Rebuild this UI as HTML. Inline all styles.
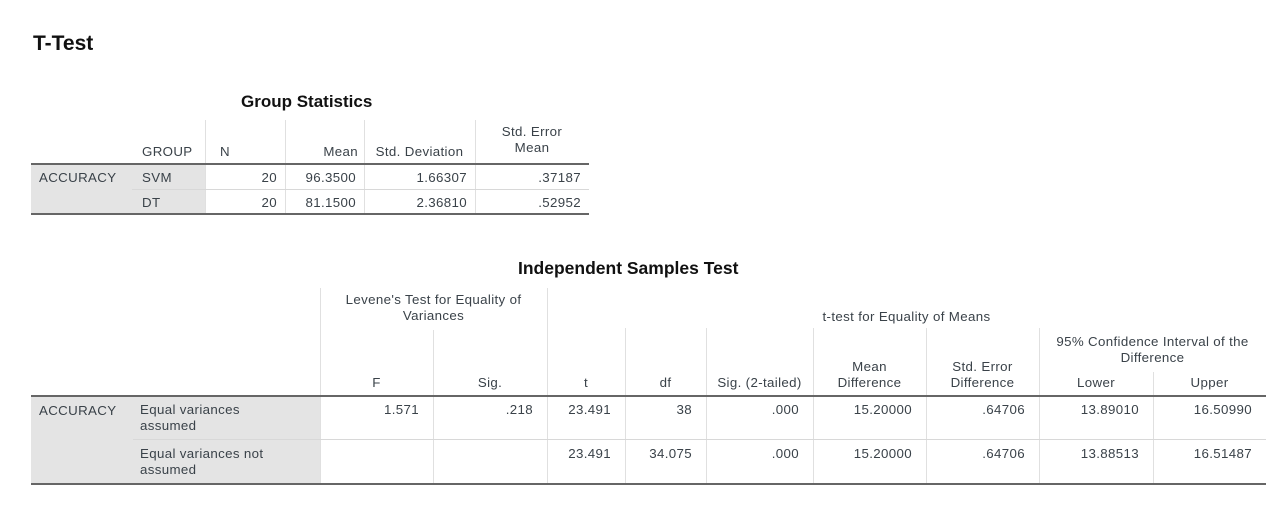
<!DOCTYPE html>
<html><head><meta charset="utf-8">
<style>
body{margin:0;background:#fff;width:1280px;height:514px;position:relative;overflow:hidden;font-family:"Liberation Sans",sans-serif;color:#3a4249}
.a{position:absolute;font-size:13.3px;letter-spacing:0.35px;line-height:16px;white-space:nowrap}
.h{position:absolute;background:#c8c8c8}
.v{position:absolute;width:1px;background:#e0e0e0}
.g{position:absolute;background:#e4e4e4}
.t{font-weight:bold;color:#111;letter-spacing:0}
</style></head><body>
<div class="a t" style="left:33px;top:32px;font-size:21px;line-height:24px">T-Test</div>

<!-- Group statistics -->
<div class="a t" style="left:241px;top:92px;font-size:17px;line-height:20px">Group Statistics</div>
<div class="g" style="left:31px;top:164px;width:174px;height:50px"></div>
<div class="v" style="left:205px;top:120px;height:94px"></div>
<div class="v" style="left:285px;top:120px;height:94px"></div>
<div class="v" style="left:364px;top:120px;height:94px"></div>
<div class="v" style="left:475px;top:120px;height:94px"></div>
<div class="h" style="left:31px;top:163px;width:558px;height:2px;background:#666"></div>
<div class="h" style="left:132px;top:189px;width:457px;height:1px;background:#d8d8d8"></div>
<div class="h" style="left:31px;top:213px;width:558px;height:2px;background:#666"></div>
<div class="a" style="left:142px;top:144px">GROUP</div>
<div class="a" style="left:220px;top:144px">N</div>
<div class="a" style="left:285px;top:144px;width:73px;text-align:right">Mean</div>
<div class="a" style="left:364px;top:144px;width:111px;text-align:center">Std. Deviation</div>
<div class="a" style="left:475px;top:124px;width:114px;text-align:center">Std. Error<br>Mean</div>
<div class="a" style="left:39px;top:170px">ACCURACY</div>
<div id="gs"></div>

<!-- Independent samples -->
<div class="a t" style="left:518px;top:258px;font-size:17.5px;line-height:20px">Independent Samples Test</div>
<div class="g" style="left:31px;top:396px;width:289px;height:88px"></div>
<div id="vl"></div>
<div class="h" style="left:31px;top:395px;width:1235px;height:2px;background:#666"></div>
<div class="h" style="left:133px;top:439px;width:1133px;height:1px;background:#d8d8d8"></div>
<div class="h" style="left:31px;top:483px;width:1235px;height:2px;background:#666"></div>
<div class="a" style="left:320px;top:292px;width:227px;text-align:center">Levene's Test for Equality of<br>Variances</div>
<div class="a" style="left:547px;top:309px;width:719px;text-align:center">t-test for Equality of Means</div>
<div class="a" style="left:1039px;top:334px;width:227px;text-align:center">95% Confidence Interval of the<br>Difference</div>
<div class="a" style="left:39px;top:403px">ACCURACY</div>
<div class="a" style="left:140px;top:402px">Equal variances<br>assumed</div>
<div class="a" style="left:140px;top:446px">Equal variances not<br>assumed</div>
<div id="ist"></div>

<script>
const gsGroups=["SVM","DT"];
const gsN=["20","20"];
const gsMean=["96.3500","81.1500"];
const gsSD=["1.66307","2.36810"];
const gsSE=[".37187",".52952"];
const isHeaders=["F","Sig.","t","df","Sig. (2-tailed)","Mean<br>Difference","Std. Error<br>Difference","Lower","Upper"];
const isRow1=["1.571",".218","23.491","38",".000","15.20000",".64706","13.89010","16.50990"];
const isRow2=["","","23.491","34.075",".000","15.20000",".64706","13.88513","16.51487"];

function cell(parent,left,top,width,html,align){
  const d=document.createElement('div');
  d.className='a';
  d.style.left=left+'px';d.style.top=top+'px';d.style.width=width+'px';
  d.style.textAlign=align;
  d.innerHTML=html;
  parent.appendChild(d);
  return d;
}
const gs=document.getElementById('gs');
const gcols=[[205,285],[285,364],[364,475],[475,589]];
for(let i=0;i<2;i++){
  const top=170+i*25;
  const g=cell(gs,142,top,60,gsGroups[i],'left');
  
  
  const vals=[gsN[i],gsMean[i],gsSD[i],gsSE[i]];
  for(let j=0;j<4;j++){
    const c=cell(gs,gcols[j][0],top,gcols[j][1]-gcols[j][0]-8,vals[j],'right');
    
    
  }
}
const bounds=[320,433,547,625,706,813,926,1039,1153,1266];
const vl=document.getElementById('vl');
const vtops=[288,330,288,328,328,328,328,328,372];
for(let j=0;j<9;j++){
  const v=document.createElement('div');
  v.className='v';
  v.style.left=bounds[j]+'px';v.style.top=vtops[j]+'px';v.style.height=(485-vtops[j])+'px';
  if(j===8){v.style.left='1153px';}
  
  
  vl.appendChild(v);
}
const ist=document.getElementById('ist');
for(let j=0;j<9;j++){
  const l=bounds[j],w=bounds[j+1]-bounds[j];
  const two=isHeaders[j].indexOf('<br>')>=0;
  const h=cell(ist,l,two?359:375,w,isHeaders[j],'center');
  
  
  const r1=cell(ist,l,402,w-14,isRow1[j],'right');
  
  
  const r2=cell(ist,l,446,w-14,isRow2[j],'right');
  
  
}
</script>
</body></html>
